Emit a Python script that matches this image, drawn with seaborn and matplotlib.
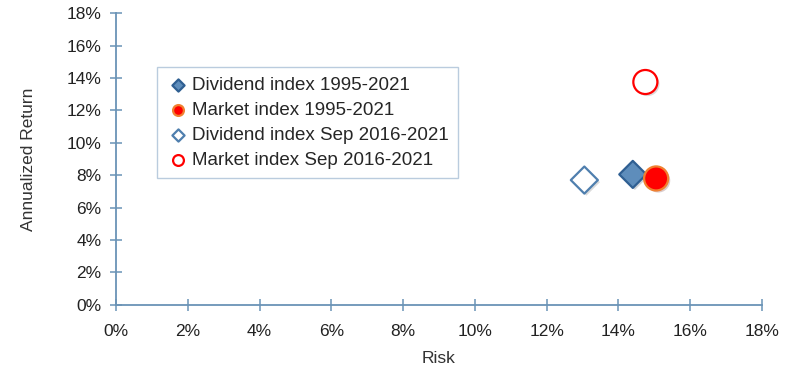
import numpy as np
import pandas as pd
import seaborn as sns
import matplotlib.pyplot as plt
import matplotlib.patheffects as pe
from matplotlib.ticker import FuncFormatter, MultipleLocator

sns.set_style('white')
plt.rcParams['font.family'] = ['Liberation Sans', 'DejaVu Sans']

series = ['Dividend index 1995-2021', 'Market index 1995-2021',
          'Dividend index Sep 2016-2021', 'Market index Sep 2016-2021']
risk = [14.4, 15.05, 13.05, 14.75]
annual_return = [8.05, 7.8, 7.7, 13.75]

df = pd.DataFrame({'series': series, 'risk': risk, 'ret': annual_return})

styles = {
    'Dividend index 1995-2021': dict(marker='D', s=190, color='#5E8DBB', edgecolor='#2F5F92'),
    'Market index 1995-2021': dict(marker='o', s=300, color='#FF0000', edgecolor='#F08030'),
    'Dividend index Sep 2016-2021': dict(marker='D', s=190, color='white', edgecolor='#4F7FAE'),
    'Market index Sep 2016-2021': dict(marker='o', s=300, color='white', edgecolor='#FF0000'),
}

axis_col = '#6A93B6'

fig = plt.figure(figsize=(8, 3.75), dpi=100)
ax = fig.add_axes([0.145, 0.187, 0.8075, 0.778])

for name in series:
    st = styles[name]
    sns.scatterplot(data=df[df['series'] == name], x='risk', y='ret', ax=ax,
                    marker=st['marker'], s=st['s'], color=st['color'],
                    edgecolor=st['edgecolor'], linewidth=1.6, label=name, zorder=3)

for coll in ax.collections:
    coll.set_path_effects([pe.SimplePatchShadow(offset=(1.5, -1.5), alpha=0.2), pe.Normal()])

ax.set_xlim(0, 18)
ax.set_ylim(0, 18)
ax.xaxis.set_major_locator(MultipleLocator(2))
ax.yaxis.set_major_locator(MultipleLocator(2))
pct = FuncFormatter(lambda v, p: f'{v:.0f}%')
ax.xaxis.set_major_formatter(pct)
ax.yaxis.set_major_formatter(pct)

sns.despine(ax=ax)
for side in ['left', 'bottom']:
    ax.spines[side].set_color(axis_col)
    ax.spines[side].set_linewidth(1.3)
ax.tick_params(axis='both', bottom=True, left=True, direction='inout', length=9,
               width=1.1, color=axis_col, labelsize=12.5, labelcolor='#222222', pad=6)
ax.tick_params(axis='x', pad=9)

ax.set_xlabel('Risk', fontsize=12.5, color='#333333', labelpad=9)
ax.set_ylabel('Annualized Return', fontsize=12.5, color='#333333', labelpad=22)

leg = ax.legend(loc='upper left', bbox_to_anchor=(0.063, 0.815), borderaxespad=0,
                frameon=True, fancybox=False, fontsize=13.5, handletextpad=0.1,
                handlelength=1.3, borderpad=0.5, labelspacing=0.42, markerscale=0.45)
leg.get_frame().set_edgecolor('#A9C0D6')
leg.get_frame().set_linewidth(1.0)
for h in leg.legend_handles:
    h.set_path_effects([])

plt.savefig('out.png', dpi=100)
plt.close()
